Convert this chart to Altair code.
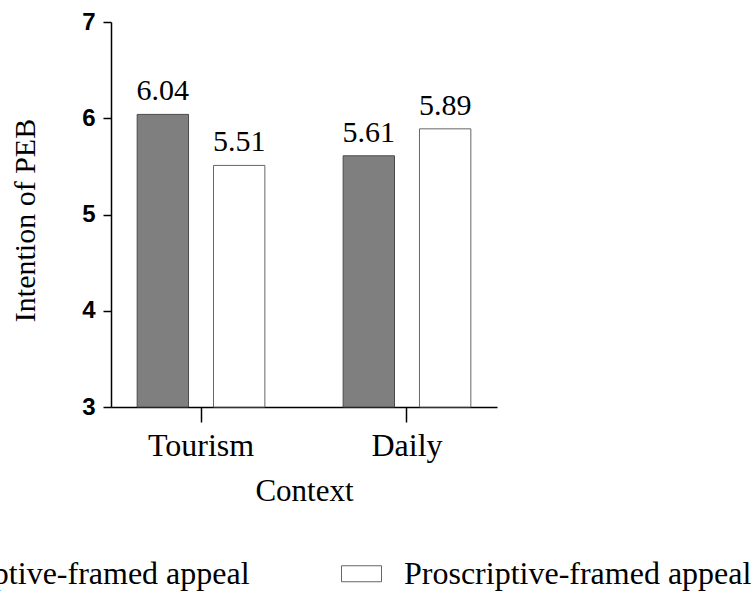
import altair as alt
import pandas as pd

contexts = ["Tourism", "Tourism", "Daily", "Daily"]
groups = ["Prescriptive-framed appeal", "Proscriptive-framed appeal",
          "Prescriptive-framed appeal", "Proscriptive-framed appeal"]
values = [6.04, 5.51, 5.61, 5.89]
labels = ["6.04", "5.51", "5.61", "5.89"]

context_order = ["Tourism", "Daily"]
group_order = ["Prescriptive-framed appeal", "Proscriptive-framed appeal"]
group_colors = ["#7f7f7f", "#ffffff"]
group_strokes = ["#4a4a4a", "#666666"]
y_ticks = [3, 4, 5, 6, 7]
y_base = 3

df = pd.DataFrame({"Context": contexts, "Group": groups, "Value": values,
                   "Label": labels, "Base": [y_base] * len(values)})

serif = "Liberation Serif"
sans = "Liberation Sans"

x_enc = alt.X(
    "Context:N",
    sort=context_order,
    scale=alt.Scale(paddingInner=0.38, paddingOuter=0.127),
    axis=alt.Axis(
        title="Context", labelAngle=0, labelFont=serif, labelFontSize=32,
        labelColor="black", labelPadding=8, tickSize=15,
        titleFont=serif, titleFontSize=31, titleFontWeight="normal",
        titleColor="black", titleY=93, titleBaseline="alphabetic",
    ),
)
xo_enc = alt.XOffset("Group:N", sort=group_order,
                     scale=alt.Scale(paddingInner=0.327, paddingOuter=0))
y_enc = alt.Y(
    "Value:Q",
    scale=alt.Scale(domain=[3, 7], nice=False, zero=False),
    axis=alt.Axis(
        title="Intention of PEB", values=y_ticks, format="d", grid=False,
        labelFont=sans, labelFontWeight="bold", labelFontSize=24,
        labelColor="black", labelPadding=8, tickSize=8,
        titleFont=serif, titleFontSize=30, titleFontWeight="normal",
        titleColor="black", titleAngle=270, titleX=-77, titleY=198,
        titleAlign="center", titleBaseline="alphabetic",
    ),
)

legend = alt.Legend(
    title=None, orient="none", direction="horizontal",
    legendX=-270, legendY=531, padding=0,
    symbolType="M-1,-0.4H1V0.4H-1Z", symbolSize=1600,
    symbolStrokeWidth=1, symbolOpacity=1,
    labelFont=serif, labelFontSize=32, labelColor="black",
    labelOffset=22, columnPadding=89, labelLimit=1000,
)

bars = alt.Chart(df).mark_bar(strokeWidth=1).encode(
    x=x_enc,
    xOffset=xo_enc,
    y=y_enc,
    y2=alt.Y2("Base:Q"),
    fill=alt.Fill("Group:N", scale=alt.Scale(domain=group_order, range=group_colors),
                  legend=legend),
    stroke=alt.Stroke("Group:N", scale=alt.Scale(domain=group_order, range=group_strokes),
                      legend=legend),
)

text = alt.Chart(df).mark_text(
    font=serif, fontSize=30, color="black", baseline="alphabetic", dy=-14
).encode(
    x=alt.X("Context:N", sort=context_order),
    xOffset=alt.XOffset("Group:N", sort=group_order),
    y=alt.Y("Value:Q"),
    text="Label:N",
)

chart = (bars + text).properties(
    width=386,
    height=385,
    autosize=alt.AutoSizeParams(type="none"),
    padding={"left": 111, "top": 22, "right": 258, "bottom": 190},
).configure(
    background="white",
    view=alt.ViewConfig(stroke=None),
    axis=alt.AxisConfig(domainColor="black", tickColor="black",
                        domainWidth=1.5, tickWidth=1.5),
)

chart.save("out.html", embed_options={"renderer": "svg", "actions": False})
